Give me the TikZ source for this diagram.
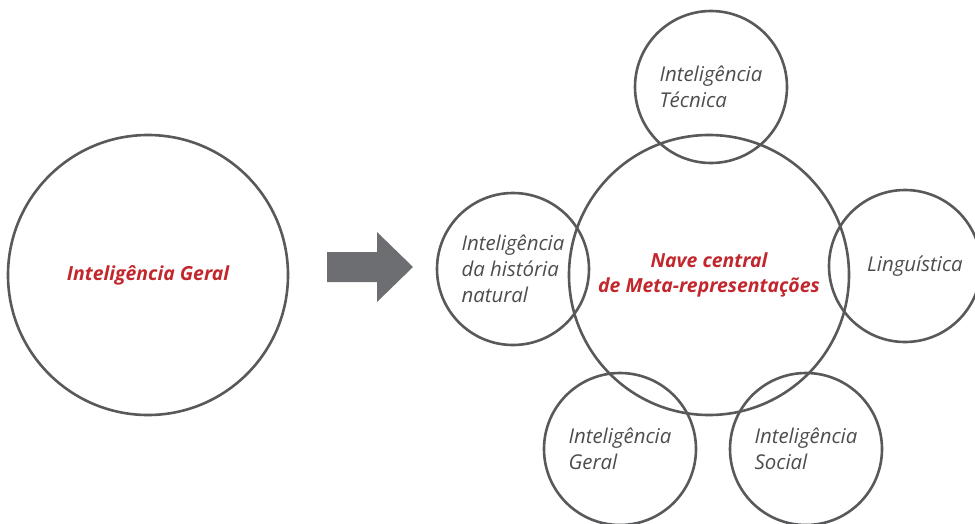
\documentclass[tikz,border=0pt]{standalone}
\usepackage{fontspec}
\setmainfont{Open Sans}
\usetikzlibrary{positioning}
\definecolor{ringgray}{HTML}{58595B}
\definecolor{labelgray}{HTML}{4D4D4F}
\definecolor{titlered}{HTML}{C1272D}
\definecolor{arrowgray}{HTML}{6D6E71}

\begin{document}
\begin{tikzpicture}[x=1pt, y=-1pt,
  every node/.style = {
    circle,
    line width = 2.6pt,
    inner sep = 0,
    outer sep = 0,
    draw = ringgray,
    text = labelgray,
    align = left,
    font = \fontsize{20.4}{26}\selectfont\itshape,
  },
  bigring/.style = {minimum size = 280pt},
  smallring/.style = {minimum size = 152pt},
  redtitle/.style = {
    text = titlered,
    align = center,
    font = \fontsize{19.4}{25}\selectfont\bfseries\itshape,
  },
]
\useasboundingbox (0,0) rectangle (975,523);
\node[bigring, redtitle] (geral) at (148,275) {Inteligência Geral};
\fill[arrowgray] (327,252) -- (377,252) -- (377,232) -- (413,267)
  -- (377,302) -- (377,282) -- (327,282) -- cycle;
\node[bigring, redtitle] (nave) at (709,275) {Nave central\\de Meta-representações};
\node[smallring] (tecnica) at (711,87) {Inteligência\\Técnica};
\node[smallring] (natural) at (513,269) {Inteligência\\da história\\natural};
\node[smallring] (lingua) at (905,266) {\hspace*{20pt}Linguística};
\node[smallring] (igeral) at (620,449) {Inteligência\\Geral};
\node[smallring] (social) at (806,449) {Inteligência\\Social};
\end{tikzpicture}
\end{document}
